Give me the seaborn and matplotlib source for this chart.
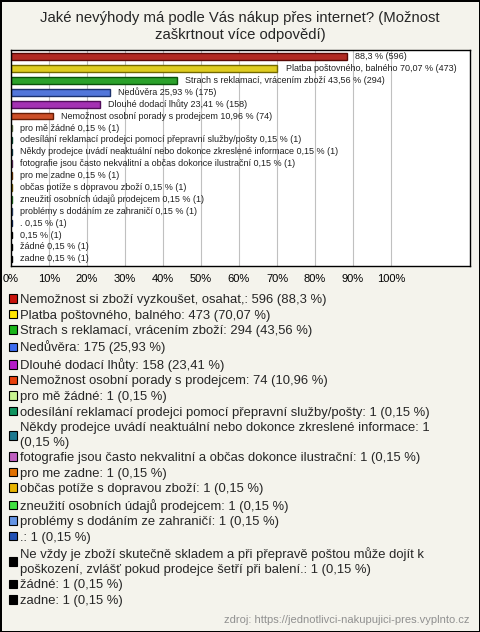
import textwrap
import seaborn as sns
import matplotlib.pyplot as plt
import matplotlib.colors as mcolors
from matplotlib.patches import Patch
import pandas as pd

title = "Jaké nevýhody má podle Vás nákup přes internet? (Možnost\nzaškrtnout více odpovědí)"
source = "zdroj: https://jednotlivci-nakupujici-pres.vyplnto.cz"

legend_names = [
    "Nemožnost si zboží vyzkoušet, osahat,",
    "Platba poštovného, balného",
    "Strach s reklamací, vrácením zboží",
    "Nedůvěra",
    "Dlouhé dodací lhůty",
    "Nemožnost osobní porady s prodejcem",
    "pro mě žádné",
    "odesílání reklamací prodejci pomocí přepravní služby/pošty",
    "Někdy prodejce uvádí neaktuální nebo dokonce zkreslené informace",
    "fotografie jsou často nekvalitní a občas dokonce ilustrační",
    "pro me zadne",
    "občas potíže s dopravou zboží",
    "zneužití osobních údajů prodejcem",
    "problémy s dodáním ze zahraničí",
    ".",
    "Ne vždy je zboží skutečně skladem a při přepravě poštou může dojít k poškození, zvlášť pokud prodejce šetří při balení.",
    "žádné",
    "zadne",
]
# names printed next to the bars (some are blank in the original)
bar_names = [""] + legend_names[1:15] + [""] + legend_names[16:]
counts = [596, 473, 294, 175, 158, 74] + [1] * 12
percents = [88.3, 70.07, 43.56, 25.93, 23.41, 10.96] + [0.15] * 12
colors = ["#c8140c", "#ffe600", "#18b418", "#3c6cf0", "#b41cc8", "#e8400c",
          "#c8f490", "#109460", "#1c7890", "#c060c0", "#e07000", "#e8b400",
          "#40e040", "#6494e4", "#2050b4", "#000000", "#000000", "#000000"]
ticks = list(range(0, 101, 10))


def fmt(p):
    return f"{p:g}".replace(".", ",")


legend_labels = [textwrap.fill(f"{n}: {c} ({fmt(p)} %)", 72, break_on_hyphens=False)
                 for n, c, p in zip(legend_names, counts, percents)]
df = pd.DataFrame({"answer": legend_labels, "pct": percents})

sns.set_theme(style="white")
plt.rcParams["font.family"] = ["Liberation Sans", "DejaVu Sans"]

fig = plt.figure(figsize=(4.8, 6.32), dpi=100)
fig.patch.set_facecolor("#f4f3ec")
fig.patch.set_edgecolor("black")
fig.patch.set_linewidth(2)

ax = fig.add_axes([11 / 480, 1 - 266 / 632, 459 / 480, 216 / 632])
ax.set_facecolor("white")
sns.barplot(data=df, x="pct", y="answer", hue="answer", palette=colors,
            orient="h", width=0.55, legend=False, ax=ax, linewidth=1)
for bar, c in zip(ax.patches, colors):
    dark = [v * 0.45 for v in mcolors.to_rgb(c)]
    bar.set_edgecolor(dark)

for i, (n, c, p) in enumerate(zip(bar_names, counts, percents)):
    txt = f"{n} {fmt(p)} % ({c})".strip()
    ax.annotate(txt, (p, i), xytext=(6, 0), textcoords="offset points",
                va="center", ha="left", fontsize=6.5, color="#202020")

ax.set_xlim(0, 120.8)
ax.set_ylim(17.6, -0.56)
ax.set_xticks(ticks)
ax.set_xticklabels([f"{t}%" for t in ticks])
ax.set_yticks([])
ax.set_xlabel("")
ax.set_ylabel("")
ax.tick_params(axis="x", length=0, pad=6, labelsize=8, colors="black")
ax.grid(axis="x", color="#c0c0c0", linewidth=0.8)
ax.set_axisbelow(True)
for s in ax.spines.values():
    s.set_color("black")
    s.set_linewidth(1)

fig.text(0.5, 1 - 11 / 632, title, ha="center", va="top", fontsize=10.7,
         linespacing=1.25)

handles = [Patch(facecolor=c, edgecolor="black", linewidth=0.8) for c in colors]
leg = fig.legend(handles, legend_labels, loc="upper left",
                 bbox_to_anchor=(9 / 480, 1 - 294 / 632), frameon=False, fontsize=9.4,
                 handlelength=0.62, handleheight=0.62, handletextpad=0.2,
                 labelspacing=0.27, borderpad=0, borderaxespad=0)
for t in leg.get_texts():
    t.set_linespacing(1.3)

fig.text(470 / 480, 1 - 620 / 632, source, ha="right", va="center",
         fontsize=8, color="#909090")

fig.savefig("out.png", dpi=100, facecolor=fig.get_facecolor(), edgecolor="black")
